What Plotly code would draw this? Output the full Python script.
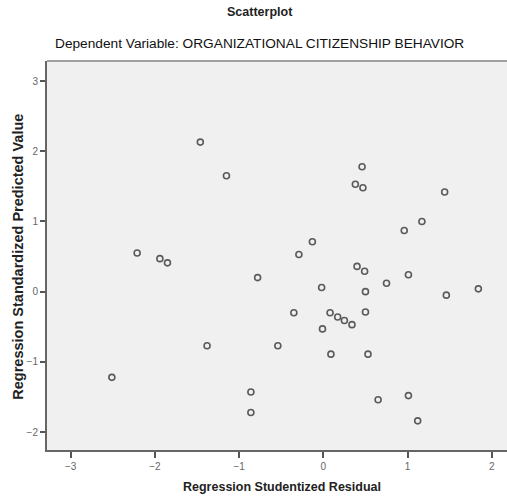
import plotly.graph_objects as go

residual = [-1.46, -1.15, -2.21, -1.94, -1.85, -0.78, -1.38, -0.54, -2.51, -0.86,
            -0.86, 0.46, 0.38, 0.47, 1.44, 1.17, 0.96, -0.13, -0.29, 0.40,
            0.49, 1.01, -0.02, 0.50, 0.75, 1.46, 1.84, -0.35, 0.08, 0.17,
            0.25, 0.34, 0.50, -0.01, 0.09, 0.53, 0.65, 1.01, 1.12]
predicted = [2.13, 1.65, 0.55, 0.47, 0.41, 0.20, -0.77, -0.77, -1.22, -1.43,
             -1.72, 1.78, 1.53, 1.48, 1.42, 1.00, 0.87, 0.71, 0.53, 0.36,
             0.29, 0.24, 0.06, 0.00, 0.12, -0.05, 0.04, -0.30, -0.30, -0.36,
             -0.41, -0.47, -0.29, -0.53, -0.89, -0.89, -1.54, -1.48, -1.84]
x_ticks = [-3, -2, -1, 0, 1, 2]
y_ticks = [-2, -1, 0, 1, 2, 3]

FONT = "Liberation Sans, Arial, sans-serif"

fig = go.Figure()
fig.add_trace(go.Scatter(
    x=residual, y=predicted, mode="markers",
    marker=dict(symbol="circle-open", size=6, color="#5a5a5a", line=dict(width=1.6, color="#5a5a5a")),
    showlegend=False, hoverinfo="x+y",
))

fig.update_layout(
    width=507, height=500, autosize=False,
    margin=dict(l=47, r=0, t=61, b=50),
    paper_bgcolor="white", plot_bgcolor="#f0f0f0",
    font=dict(family=FONT, color="#333"),
    xaxis=dict(range=[-3.28, 2.18], tickvals=x_ticks, ticks="outside", ticklen=6,
               tickcolor="#555", tickwidth=1.5, showgrid=False, zeroline=False,
               showline=True, linecolor="#666", linewidth=2,
               tickfont=dict(size=10, color="#666", family=FONT)),
    yaxis=dict(range=[-2.255, 3.285], tickvals=y_ticks, ticks="outside", ticklen=5,
               tickcolor="#555", tickwidth=1.5, showgrid=False, zeroline=False,
               showline=True, linecolor="#666", linewidth=2,
               tickfont=dict(size=10, color="#666", family=FONT)),
    shapes=[dict(type="line", xref="paper", yref="paper", x0=0, x1=1, y0=1, y1=1,
                 line=dict(color="#a0a0a0", width=2))],
    annotations=[
        dict(text="<b>Scatterplot</b>", xref="paper", yref="paper", x=0.463, y=1.126,
             xanchor="center", yanchor="middle", showarrow=False,
             font=dict(size=12.5, color="#222", family=FONT)),
        dict(text="Dependent Variable: ORGANIZATIONAL CITIZENSHIP BEHAVIOR", xref="paper", yref="paper",
             x=0.463, y=1.046, xanchor="center", yanchor="middle", showarrow=False,
             font=dict(size=13.7, color="#111", family=FONT)),
        dict(text="<b>Regression Studentized Residual</b>", xref="paper", yref="paper",
             x=0.511, y=-0.095, xanchor="center", yanchor="middle", showarrow=False,
             font=dict(size=12.5, color="#222", family=FONT)),
        dict(text="<b>Regression Standardized Predicted Value</b>", xref="paper", yref="paper",
             x=-0.063, y=0.497, xanchor="center", yanchor="middle", showarrow=False, textangle=-90,
             font=dict(size=14.5, color="#222", family=FONT)),
    ],
)

fig.write_html("out.html", config={"displayModeBar": False},
               post_script="document.body.style.margin='0';document.body.style.overflow='hidden';")
